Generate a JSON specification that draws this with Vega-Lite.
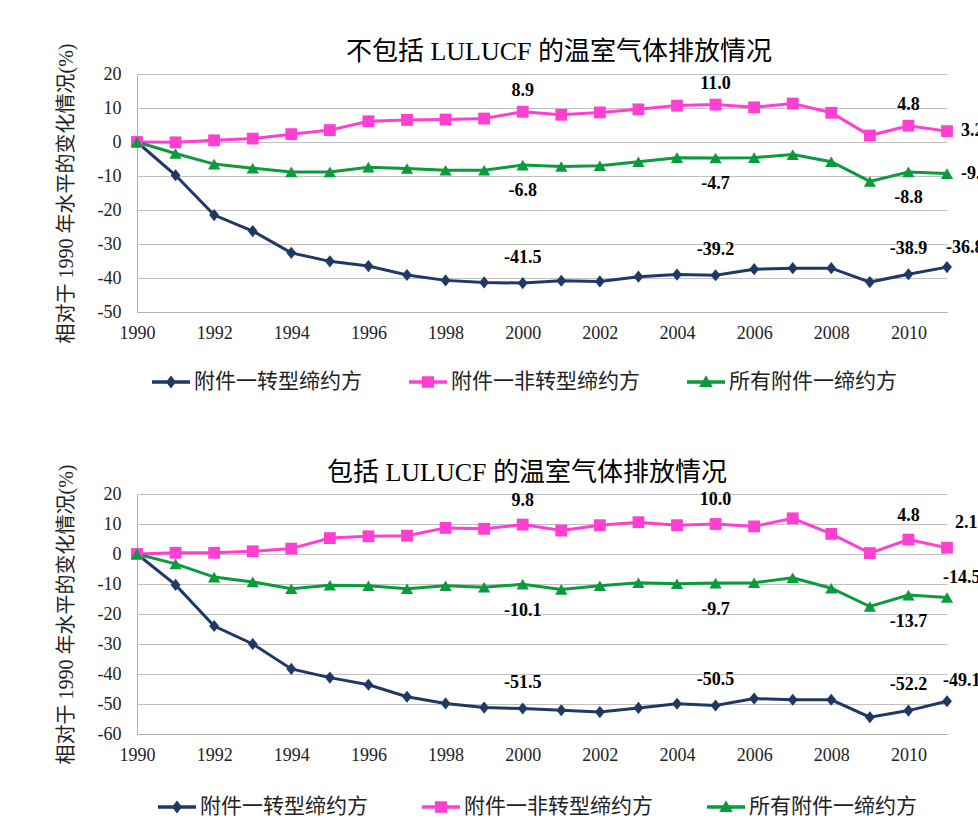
{
  "$schema": "https://vega.github.io/schema/vega-lite/v6.json",
  "padding": {"left": 56, "top": 39, "right": 0, "bottom": 0},
  "background": "white",
  "datasets": {
    "d": [
      {"panel":"excl","series":"附件一转型缔约方","year":1990,"value":0},
      {"panel":"excl","series":"附件一转型缔约方","year":1991,"value":-9.8},
      {"panel":"excl","series":"附件一转型缔约方","year":1992,"value":-21.5},
      {"panel":"excl","series":"附件一转型缔约方","year":1993,"value":-26.2},
      {"panel":"excl","series":"附件一转型缔约方","year":1994,"value":-32.6},
      {"panel":"excl","series":"附件一转型缔约方","year":1995,"value":-35.1},
      {"panel":"excl","series":"附件一转型缔约方","year":1996,"value":-36.5},
      {"panel":"excl","series":"附件一转型缔约方","year":1997,"value":-39.1},
      {"panel":"excl","series":"附件一转型缔约方","year":1998,"value":-40.7},
      {"panel":"excl","series":"附件一转型缔约方","year":1999,"value":-41.3},
      {"panel":"excl","series":"附件一转型缔约方","year":2000,"value":-41.5},
      {"panel":"excl","series":"附件一转型缔约方","year":2001,"value":-40.8},
      {"panel":"excl","series":"附件一转型缔约方","year":2002,"value":-41.0},
      {"panel":"excl","series":"附件一转型缔约方","year":2003,"value":-39.6},
      {"panel":"excl","series":"附件一转型缔约方","year":2004,"value":-39.0},
      {"panel":"excl","series":"附件一转型缔约方","year":2005,"value":-39.2},
      {"panel":"excl","series":"附件一转型缔约方","year":2006,"value":-37.4},
      {"panel":"excl","series":"附件一转型缔约方","year":2007,"value":-37.1},
      {"panel":"excl","series":"附件一转型缔约方","year":2008,"value":-37.1},
      {"panel":"excl","series":"附件一转型缔约方","year":2009,"value":-41.2},
      {"panel":"excl","series":"附件一转型缔约方","year":2010,"value":-38.9},
      {"panel":"excl","series":"附件一转型缔约方","year":2011,"value":-36.8},
      {"panel":"excl","series":"附件一非转型缔约方","year":1990,"value":0},
      {"panel":"excl","series":"附件一非转型缔约方","year":1991,"value":-0.1},
      {"panel":"excl","series":"附件一非转型缔约方","year":1992,"value":0.5},
      {"panel":"excl","series":"附件一非转型缔约方","year":1993,"value":1.0},
      {"panel":"excl","series":"附件一非转型缔约方","year":1994,"value":2.3},
      {"panel":"excl","series":"附件一非转型缔约方","year":1995,"value":3.5},
      {"panel":"excl","series":"附件一非转型缔约方","year":1996,"value":6.1},
      {"panel":"excl","series":"附件一非转型缔约方","year":1997,"value":6.5},
      {"panel":"excl","series":"附件一非转型缔约方","year":1998,"value":6.6},
      {"panel":"excl","series":"附件一非转型缔约方","year":1999,"value":6.9},
      {"panel":"excl","series":"附件一非转型缔约方","year":2000,"value":8.9},
      {"panel":"excl","series":"附件一非转型缔约方","year":2001,"value":8.0},
      {"panel":"excl","series":"附件一非转型缔约方","year":2002,"value":8.7},
      {"panel":"excl","series":"附件一非转型缔约方","year":2003,"value":9.6},
      {"panel":"excl","series":"附件一非转型缔约方","year":2004,"value":10.7},
      {"panel":"excl","series":"附件一非转型缔约方","year":2005,"value":11.0},
      {"panel":"excl","series":"附件一非转型缔约方","year":2006,"value":10.2},
      {"panel":"excl","series":"附件一非转型缔约方","year":2007,"value":11.3},
      {"panel":"excl","series":"附件一非转型缔约方","year":2008,"value":8.6},
      {"panel":"excl","series":"附件一非转型缔约方","year":2009,"value":1.9},
      {"panel":"excl","series":"附件一非转型缔约方","year":2010,"value":4.8},
      {"panel":"excl","series":"附件一非转型缔约方","year":2011,"value":3.2},
      {"panel":"excl","series":"所有附件一缔约方","year":1990,"value":0},
      {"panel":"excl","series":"所有附件一缔约方","year":1991,"value":-3.4},
      {"panel":"excl","series":"所有附件一缔约方","year":1992,"value":-6.5},
      {"panel":"excl","series":"所有附件一缔约方","year":1993,"value":-7.7},
      {"panel":"excl","series":"所有附件一缔约方","year":1994,"value":-8.8},
      {"panel":"excl","series":"所有附件一缔约方","year":1995,"value":-8.8},
      {"panel":"excl","series":"所有附件一缔约方","year":1996,"value":-7.4},
      {"panel":"excl","series":"所有附件一缔约方","year":1997,"value":-7.8},
      {"panel":"excl","series":"所有附件一缔约方","year":1998,"value":-8.3},
      {"panel":"excl","series":"所有附件一缔约方","year":1999,"value":-8.3},
      {"panel":"excl","series":"所有附件一缔约方","year":2000,"value":-6.8},
      {"panel":"excl","series":"所有附件一缔约方","year":2001,"value":-7.2},
      {"panel":"excl","series":"所有附件一缔约方","year":2002,"value":-7.0},
      {"panel":"excl","series":"所有附件一缔约方","year":2003,"value":-5.8},
      {"panel":"excl","series":"所有附件一缔约方","year":2004,"value":-4.6},
      {"panel":"excl","series":"所有附件一缔约方","year":2005,"value":-4.7},
      {"panel":"excl","series":"所有附件一缔约方","year":2006,"value":-4.6},
      {"panel":"excl","series":"所有附件一缔约方","year":2007,"value":-3.7},
      {"panel":"excl","series":"所有附件一缔约方","year":2008,"value":-5.8},
      {"panel":"excl","series":"所有附件一缔约方","year":2009,"value":-11.6},
      {"panel":"excl","series":"所有附件一缔约方","year":2010,"value":-8.8},
      {"panel":"excl","series":"所有附件一缔约方","year":2011,"value":-9.3},
      {"panel":"incl","series":"附件一转型缔约方","year":1990,"value":0},
      {"panel":"incl","series":"附件一转型缔约方","year":1991,"value":-10.3},
      {"panel":"incl","series":"附件一转型缔约方","year":1992,"value":-24.0},
      {"panel":"incl","series":"附件一转型缔约方","year":1993,"value":-30.0},
      {"panel":"incl","series":"附件一转型缔约方","year":1994,"value":-38.3},
      {"panel":"incl","series":"附件一转型缔约方","year":1995,"value":-41.2},
      {"panel":"incl","series":"附件一转型缔约方","year":1996,"value":-43.6},
      {"panel":"incl","series":"附件一转型缔约方","year":1997,"value":-47.6},
      {"panel":"incl","series":"附件一转型缔约方","year":1998,"value":-49.8},
      {"panel":"incl","series":"附件一转型缔约方","year":1999,"value":-51.2},
      {"panel":"incl","series":"附件一转型缔约方","year":2000,"value":-51.5},
      {"panel":"incl","series":"附件一转型缔约方","year":2001,"value":-52.1},
      {"panel":"incl","series":"附件一转型缔约方","year":2002,"value":-52.7},
      {"panel":"incl","series":"附件一转型缔约方","year":2003,"value":-51.3},
      {"panel":"incl","series":"附件一转型缔约方","year":2004,"value":-49.9},
      {"panel":"incl","series":"附件一转型缔约方","year":2005,"value":-50.5},
      {"panel":"incl","series":"附件一转型缔约方","year":2006,"value":-48.2},
      {"panel":"incl","series":"附件一转型缔约方","year":2007,"value":-48.6},
      {"panel":"incl","series":"附件一转型缔约方","year":2008,"value":-48.6},
      {"panel":"incl","series":"附件一转型缔约方","year":2009,"value":-54.4},
      {"panel":"incl","series":"附件一转型缔约方","year":2010,"value":-52.2},
      {"panel":"incl","series":"附件一转型缔约方","year":2011,"value":-49.1},
      {"panel":"incl","series":"附件一非转型缔约方","year":1990,"value":0},
      {"panel":"incl","series":"附件一非转型缔约方","year":1991,"value":0.4},
      {"panel":"incl","series":"附件一非转型缔约方","year":1992,"value":0.4},
      {"panel":"incl","series":"附件一非转型缔约方","year":1993,"value":0.9},
      {"panel":"incl","series":"附件一非转型缔约方","year":1994,"value":1.8},
      {"panel":"incl","series":"附件一非转型缔约方","year":1995,"value":5.3},
      {"panel":"incl","series":"附件一非转型缔约方","year":1996,"value":5.9},
      {"panel":"incl","series":"附件一非转型缔约方","year":1997,"value":6.1},
      {"panel":"incl","series":"附件一非转型缔约方","year":1998,"value":8.7},
      {"panel":"incl","series":"附件一非转型缔约方","year":1999,"value":8.4},
      {"panel":"incl","series":"附件一非转型缔约方","year":2000,"value":9.8},
      {"panel":"incl","series":"附件一非转型缔约方","year":2001,"value":7.8},
      {"panel":"incl","series":"附件一非转型缔约方","year":2002,"value":9.6},
      {"panel":"incl","series":"附件一非转型缔约方","year":2003,"value":10.6},
      {"panel":"incl","series":"附件一非转型缔约方","year":2004,"value":9.6},
      {"panel":"incl","series":"附件一非转型缔约方","year":2005,"value":10.0},
      {"panel":"incl","series":"附件一非转型缔约方","year":2006,"value":9.2},
      {"panel":"incl","series":"附件一非转型缔约方","year":2007,"value":11.9},
      {"panel":"incl","series":"附件一非转型缔约方","year":2008,"value":6.7},
      {"panel":"incl","series":"附件一非转型缔约方","year":2009,"value":0.3},
      {"panel":"incl","series":"附件一非转型缔约方","year":2010,"value":4.8},
      {"panel":"incl","series":"附件一非转型缔约方","year":2011,"value":2.1},
      {"panel":"incl","series":"所有附件一缔约方","year":1990,"value":0},
      {"panel":"incl","series":"所有附件一缔约方","year":1991,"value":-3.3},
      {"panel":"incl","series":"所有附件一缔约方","year":1992,"value":-7.7},
      {"panel":"incl","series":"所有附件一缔约方","year":1993,"value":-9.3},
      {"panel":"incl","series":"所有附件一缔约方","year":1994,"value":-11.6},
      {"panel":"incl","series":"所有附件一缔约方","year":1995,"value":-10.4},
      {"panel":"incl","series":"所有附件一缔约方","year":1996,"value":-10.6},
      {"panel":"incl","series":"所有附件一缔约方","year":1997,"value":-11.6},
      {"panel":"incl","series":"所有附件一缔约方","year":1998,"value":-10.6},
      {"panel":"incl","series":"所有附件一缔约方","year":1999,"value":-11.1},
      {"panel":"incl","series":"所有附件一缔约方","year":2000,"value":-10.1},
      {"panel":"incl","series":"所有附件一缔约方","year":2001,"value":-11.8},
      {"panel":"incl","series":"所有附件一缔约方","year":2002,"value":-10.6},
      {"panel":"incl","series":"所有附件一缔约方","year":2003,"value":-9.6},
      {"panel":"incl","series":"所有附件一缔约方","year":2004,"value":-9.9},
      {"panel":"incl","series":"所有附件一缔约方","year":2005,"value":-9.7},
      {"panel":"incl","series":"所有附件一缔约方","year":2006,"value":-9.6},
      {"panel":"incl","series":"所有附件一缔约方","year":2007,"value":-7.9},
      {"panel":"incl","series":"所有附件一缔约方","year":2008,"value":-11.4},
      {"panel":"incl","series":"所有附件一缔约方","year":2009,"value":-17.5},
      {"panel":"incl","series":"所有附件一缔约方","year":2010,"value":-13.7},
      {"panel":"incl","series":"所有附件一缔约方","year":2011,"value":-14.5}
    ]
  },
  "spacing": 53,
  "resolve": {"scale": {"color": "independent"}, "legend": {"color": "independent"}},
  "vconcat": [
    {
      "width": 810,
      "height": 238,
      "title": {"text": "不包括 LULUCF 的温室气体排放情况", "dx": 17},
      "data": {"name": "d"},
      "transform": [{"filter": {"field": "panel", "equal": "excl"}}],
      "encoding": {
        "x": {"field": "year", "type": "quantitative", "scale": {"domain": [1990, 2011], "nice": false, "zero": false},
              "axis": {"values": [1990,1992,1994,1996,1998,2000,2002,2004,2006,2008,2010], "format": "d", "title": null, "grid": false, "labelPadding": 12, "labelFlush": false}},
        "y": {"field": "value", "type": "quantitative", "scale": {"domain": [-50, 20], "nice": false, "zero": false},
              "axis": {"values": [-50,-40,-30,-20,-10,0,10,20], "title": "相对于 1990 年水平的变化情况(%)", "labelPadding": 16, "titlePadding": 21}},
        "color": {"field": "series", "type": "nominal", "scale": {"domain": ["附件一转型缔约方","附件一非转型缔约方","所有附件一缔约方"], "range": ["#1F3864","#FF3FD2","#0B9A3C"]},
          "legend": {"title": null, "orient": "bottom", "direction": "horizontal", "offset": 6, "padding": 15, "columnPadding": 47,
            "encoding": {"symbols": {"shape": {"condition": [{"test": "datum.value === '附件一非转型缔约方'", "value": "M-1,-0.09H1V0.09H-1Z M-0.32,-0.3H0.32V0.3H-0.32Z"}, {"test": "datum.value === '所有附件一缔约方'", "value": "M-1,-0.09H1V0.09H-1Z M0,-0.36L0.36,0.26H-0.36Z"}], "value": "M-1,-0.09H1V0.09H-1Z M0,-0.34L0.27,0L0,0.34L-0.27,0Z"}}}}}
      },
      "layer": [
        {"mark": {"type": "line", "strokeWidth": 3}},
        {"transform": [{"filter": {"field": "series", "equal": "附件一转型缔约方"}}],
         "mark": {"type": "point", "filled": true, "opacity": 1, "size": 121, "shape": "M0,-1.1L0.9,0L0,1.1L-0.9,0Z"}},
        {"transform": [{"filter": {"field": "series", "equal": "附件一非转型缔约方"}}],
         "mark": {"type": "point", "filled": true, "opacity": 1, "size": 140, "shape": "square"}},
        {"transform": [{"filter": {"field": "series", "equal": "所有附件一缔约方"}}],
         "mark": {"type": "point", "filled": true, "opacity": 1, "size": 150, "shape": "triangle-up"}},
        {"transform": [{"filter": {"field": "year", "oneOf": [2000, 2005, 2010]}}, {"filter": {"field": "series", "equal": "附件一非转型缔约方"}}],
         "mark": {"type": "text", "dy": -21}, "encoding": {"text": {"field": "value", "format": ".1f"}, "color": {"value": "#000000"}}},
        {"transform": [{"filter": {"field": "year", "oneOf": [2000, 2005, 2010]}}, {"filter": {"field": "series", "equal": "附件一转型缔约方"}}],
         "mark": {"type": "text", "dy": -25}, "encoding": {"text": {"field": "value", "format": ".1f"}, "color": {"value": "#000000"}}},
        {"transform": [{"filter": {"field": "year", "oneOf": [2000, 2005, 2010]}}, {"filter": {"field": "series", "equal": "所有附件一缔约方"}}],
         "mark": {"type": "text", "dy": 26}, "encoding": {"text": {"field": "value", "format": ".1f"}, "color": {"value": "#000000"}}},
        {"transform": [{"filter": {"field": "year", "equal": 2011}}, {"filter": {"field": "series", "oneOf": ["附件一非转型缔约方", "所有附件一缔约方"]}}],
         "mark": {"type": "text", "align": "left", "dx": 14}, "encoding": {"text": {"field": "value", "format": ".1f"}, "color": {"value": "#000000"}}},
        {"transform": [{"filter": {"field": "year", "equal": 2011}}, {"filter": {"field": "series", "equal": "附件一转型缔约方"}}],
         "mark": {"type": "text", "align": "left", "dx": -1, "dy": -19}, "encoding": {"text": {"field": "value", "format": ".1f"}, "color": {"value": "#000000"}}}
      ]
    },
    {
      "width": 810,
      "height": 240,
      "title": {"text": "包括 LULUCF 的温室气体排放情况", "dx": -15},
      "data": {"name": "d"},
      "transform": [{"filter": {"field": "panel", "equal": "incl"}}],
      "encoding": {
        "x": {"field": "year", "type": "quantitative", "scale": {"domain": [1990, 2011], "nice": false, "zero": false},
              "axis": {"values": [1990,1992,1994,1996,1998,2000,2002,2004,2006,2008,2010], "format": "d", "title": null, "grid": false, "labelPadding": 12, "labelFlush": false}},
        "y": {"field": "value", "type": "quantitative", "scale": {"domain": [-60, 20], "nice": false, "zero": false},
              "axis": {"values": [-60,-50,-40,-30,-20,-10,0,10,20], "title": "相对于 1990 年水平的变化情况(%)", "labelPadding": 16, "titlePadding": 21}},
        "color": {"field": "series", "type": "nominal", "scale": {"domain": ["附件一转型缔约方","附件一非转型缔约方","所有附件一缔约方"], "range": ["#1F3864","#FF3FD2","#0B9A3C"]},
          "legend": {"title": null, "orient": "bottom", "direction": "horizontal", "offset": 3, "padding": 21, "columnPadding": 54,
            "encoding": {"symbols": {"shape": {"condition": [{"test": "datum.value === '附件一非转型缔约方'", "value": "M-1,-0.09H1V0.09H-1Z M-0.32,-0.3H0.32V0.3H-0.32Z"}, {"test": "datum.value === '所有附件一缔约方'", "value": "M-1,-0.09H1V0.09H-1Z M0,-0.36L0.36,0.26H-0.36Z"}], "value": "M-1,-0.09H1V0.09H-1Z M0,-0.34L0.27,0L0,0.34L-0.27,0Z"}}}}}
      },
      "layer": [
        {"mark": {"type": "line", "strokeWidth": 3}},
        {"transform": [{"filter": {"field": "series", "equal": "附件一转型缔约方"}}],
         "mark": {"type": "point", "filled": true, "opacity": 1, "size": 121, "shape": "M0,-1.1L0.9,0L0,1.1L-0.9,0Z"}},
        {"transform": [{"filter": {"field": "series", "equal": "附件一非转型缔约方"}}],
         "mark": {"type": "point", "filled": true, "opacity": 1, "size": 140, "shape": "square"}},
        {"transform": [{"filter": {"field": "series", "equal": "所有附件一缔约方"}}],
         "mark": {"type": "point", "filled": true, "opacity": 1, "size": 150, "shape": "triangle-up"}},
        {"transform": [{"filter": {"field": "year", "oneOf": [2000, 2005, 2010]}}, {"filter": {"field": "series", "equal": "附件一非转型缔约方"}}],
         "mark": {"type": "text", "dy": -24}, "encoding": {"text": {"field": "value", "format": ".1f"}, "color": {"value": "#000000"}}},
        {"transform": [{"filter": {"field": "year", "oneOf": [2000, 2005, 2010]}}, {"filter": {"field": "series", "equal": "附件一转型缔约方"}}],
         "mark": {"type": "text", "dy": -26}, "encoding": {"text": {"field": "value", "format": ".1f"}, "color": {"value": "#000000"}}},
        {"transform": [{"filter": {"field": "year", "oneOf": [2000, 2005, 2010]}}, {"filter": {"field": "series", "equal": "所有附件一缔约方"}}],
         "mark": {"type": "text", "dy": 27}, "encoding": {"text": {"field": "value", "format": ".1f"}, "color": {"value": "#000000"}}},
        {"transform": [{"filter": {"field": "year", "equal": 2011}}, {"filter": {"field": "series", "equal": "附件一非转型缔约方"}}],
         "mark": {"type": "text", "align": "left", "dx": 8, "dy": -25}, "encoding": {"text": {"field": "value", "format": ".1f"}, "color": {"value": "#000000"}}},
        {"transform": [{"filter": {"field": "year", "equal": 2011}}, {"filter": {"field": "series", "oneOf": ["附件一转型缔约方", "所有附件一缔约方"]}}],
         "mark": {"type": "text", "align": "left", "dx": -4, "dy": -20}, "encoding": {"text": {"field": "value", "format": ".1f"}, "color": {"value": "#000000"}}}
      ]
    }
  ],
  "config": {
    "locale": {"number": {"decimal": ".", "thousands": ",", "grouping": [3], "currency": ["$", ""], "minus": "-"}},
    "view": {"stroke": null},
    "axis": {"labelFont": "Liberation Serif", "labelFontSize": 18, "labelColor": "#222222", "domainColor": "#b0b0b0", "gridColor": "#c0c0c0", "ticks": false,
             "titleFont": "Liberation Serif, Noto Sans CJK SC", "titleFontSize": 20, "titleFontWeight": "normal", "titleColor": "#222222"},
    "legend": {"labelFont": "Liberation Serif, Noto Sans CJK SC", "labelFontSize": 21, "labelLimit": 400, "labelColor": "#222222", "symbolSize": 1444, "symbolStrokeWidth": 0, "labelOffset": 4},
    "title": {"font": "Liberation Serif, Noto Sans CJK SC", "fontSize": 26, "fontWeight": "normal", "color": "#000000", "anchor": "middle", "frame": "group", "offset": -22},
    "text": {"font": "Liberation Serif", "fontSize": 18, "fontWeight": "bold", "baseline": "middle"}
  }
}
